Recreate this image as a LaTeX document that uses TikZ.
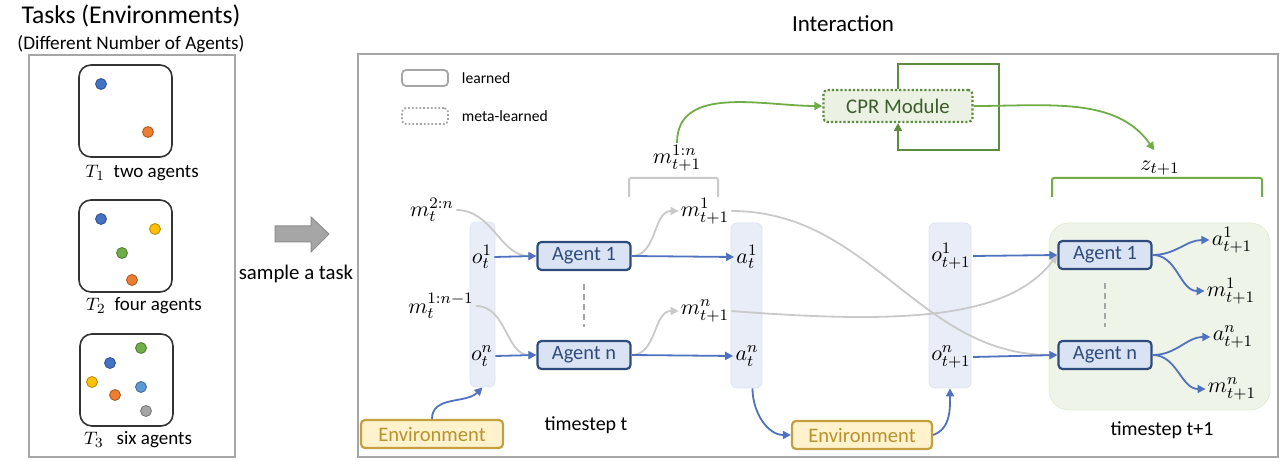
\documentclass[tikz,border=0pt]{standalone}
\usepackage{fontspec}
\setmainfont{Carlito}
\usetikzlibrary{arrows.meta,positioning}

\definecolor{flowblue}{HTML}{4F71BE}
\definecolor{agentline}{HTML}{2F4B7C}
\definecolor{agentfill}{HTML}{DAE3F3}
\definecolor{colfill}{HTML}{E9EDF7}
\definecolor{colline}{HTML}{DDE3F0}
\definecolor{metagreen}{HTML}{70AD47}
\definecolor{loopgreen}{HTML}{5E8C3F}
\definecolor{cprfill}{HTML}{EBF1E3}
\definecolor{cprtext}{HTML}{3B5E2B}
\definecolor{regionfill}{HTML}{EFF4E9}
\definecolor{regionline}{HTML}{E2EBD8}
\definecolor{envfill}{HTML}{FFF2CC}
\definecolor{envline}{HTML}{C5A03E}
\definecolor{envtext}{HTML}{B8922E}
\definecolor{msggray}{HTML}{C9C9C9}
\definecolor{framegray}{HTML}{A6A6A6}
\definecolor{dotblue}{HTML}{4472C4}
\definecolor{dotorange}{HTML}{ED7D31}
\definecolor{dotyellow}{HTML}{FFC000}
\definecolor{dotgreen}{HTML}{70AD47}
\definecolor{dotsky}{HTML}{5B9BD5}
\definecolor{dotgray}{HTML}{A5A5A5}

\tikzset{
  agentbox/.style={draw=agentline, fill=agentfill, line width=1.1pt, rounded corners=2pt,
    minimum width=46.5pt, minimum height=14pt, inner sep=0pt, text=agentline,
    font=\fontsize{10.2}{12}\selectfont},
  envbox/.style={draw=envline, fill=envfill, line width=1.1pt, rounded corners=2pt,
    minimum width=71pt, minimum height=14pt, inner sep=0pt, text=envtext,
    font=\fontsize{10.3}{12}\selectfont},
  obscol/.style={draw=colline, fill=colfill, rounded corners=3pt, inner sep=0pt,
    minimum height=82.5pt},
  varlab/.style={font=\fontsize{11}{13}\selectfont, inner sep=1pt},
  flowarrow/.style={flowblue, line width=0.9pt, -{Triangle[length=4pt,width=4pt]}},
  msgarrow/.style={msggray, line width=0.9pt, -{Triangle[length=4pt,width=4pt]}},
  metaarrow/.style={metagreen, line width=0.9pt, -{Triangle[length=4pt,width=4pt]}},
  taskbox/.style={draw=black!80, line width=0.8pt, rounded corners=6pt,
    minimum width=46.5pt, minimum height=46pt},
  agentdot/.style={circle, inner sep=0pt, minimum size=5.5pt, line width=0.4pt},
  captext/.style={font=\fontsize{9.5}{11}\selectfont},
}

\begin{document}
\begin{tikzpicture}[x=0.5pt,y=0.5pt]

    % Fix the page size
    \useasboundingbox (0,0) rectangle (1286,-464);

    % Titles of the two panels
    \node[font=\fontsize{12.8}{15}\selectfont] (tasktitle) at (131,-16) {Tasks (Environments)};
    \node[font=\fontsize{9.6}{11}\selectfont] (tasksub) at (131,-44) {(Different Number of Agents)};
    \node[font=\fontsize{11.5}{14}\selectfont] (inttitle) at (843,-24) {Interaction};

    % Draw the two frames
    \draw[framegray, line width=0.8pt] (29,-55) rectangle (235,-457);
    \draw[framegray, line width=0.8pt] (358,-54) rectangle (1278,-457);

    % The three tasks
    \node[taskbox] (t1) at (125.5,-111) {};
    \node[taskbox] (t2) at (125.5,-246) {};
    \node[taskbox] (t3) at (126.5,-380) {};
    \node[captext] (t1lab) at (142,-173) {$T_1$\ \ two agents};
    \node[captext] (t2lab) at (144,-306) {$T_2$\ \ four agents};
    \node[captext] (t3lab) at (138,-440) {$T_3$\ \ \ six agents};

    % Agents inside the tasks
    \node[agentdot, fill=dotblue, draw=dotblue!70!black] (d11) at (101,-84) {};
    \node[agentdot, fill=dotorange, draw=dotorange!70!black] (d12) at (148,-132) {};
    \node[agentdot, fill=dotblue, draw=dotblue!70!black] (d21) at (101,-219) {};
    \node[agentdot, fill=dotyellow, draw=dotyellow!70!black] (d22) at (155,-229) {};
    \node[agentdot, fill=dotgreen, draw=dotgreen!70!black] (d23) at (122,-253) {};
    \node[agentdot, fill=dotorange, draw=dotorange!70!black] (d24) at (132,-280) {};
    \node[agentdot, fill=dotgreen, draw=dotgreen!70!black] (d31) at (141,-348) {};
    \node[agentdot, fill=dotblue, draw=dotblue!70!black] (d32) at (110,-363) {};
    \node[agentdot, fill=dotyellow, draw=dotyellow!70!black] (d33) at (92,-382) {};
    \node[agentdot, fill=dotsky, draw=dotsky!70!black] (d34) at (141,-387) {};
    \node[agentdot, fill=dotorange, draw=dotorange!70!black] (d35) at (115,-395) {};
    \node[agentdot, fill=dotgray, draw=dotgray!70!black] (d36) at (146,-411) {};

    % Big gray arrow
    \draw[fill=framegray, draw=framegray!85!black, line width=0.5pt]
        (275,-226) -- (311,-226) -- (311,-217) -- (329,-234) -- (311,-252) -- (311,-242) -- (275,-242) -- cycle;
    \node[font=\fontsize{10.4}{12}\selectfont] (sample) at (296,-274) {sample a task};

    % Legend
    \node[draw=framegray, line width=0.9pt, rounded corners=2pt, minimum width=23pt,
        minimum height=8pt, inner sep=0pt] (lgsolid) at (425,-78) {};
    \node[right=3pt of lgsolid, font=\fontsize{7.8}{9}\selectfont] (lglearned) {learned};
    \node[draw=framegray, densely dotted, line width=0.9pt, rounded corners=2pt, minimum width=23pt,
        minimum height=8pt, inner sep=0pt] (lgdotted) at (425,-116) {};
    \node[right=3pt of lgdotted, font=\fontsize{7.8}{9}\selectfont] (lgmeta) {meta-learned};

    % Background columns and region
    \node[obscol, minimum width=12.5pt] (colO) at (482.5,-304.5) {};
    \node[obscol, minimum width=15.5pt] (colA) at (746.5,-305.5) {};
    \node[obscol, minimum width=21pt] (colB) at (950,-305.5) {};
    \node[draw=regionline, fill=regionfill, rounded corners=10pt, minimum width=110.5pt,
        minimum height=93.5pt] (region) at (1159.5,-316.5) {};

    % CPR module and its loop
    \node[draw=loopgreen, densely dotted, line width=1.1pt, fill=cprfill, rounded corners=2pt,
        minimum width=74.5pt, minimum height=16pt, text=cprtext,
        font=\fontsize{10.4}{12}\selectfont] (cpr) at (898,-106) {CPR Module};
    \coordinate (looptop) at (999,-64);
    \coordinate (loopbot) at (999,-150);
    \draw[loopgreen, line width=1.3pt, -{Triangle[length=4pt,width=4pt]}]
        (cpr.north) |- (looptop) -- (loopbot) -| (cpr.south);

    % Agents at timestep t
    \node[agentbox] (ag1) at (584,-256) {Agent 1};
    \node[agentbox] (agn) at (584,-355) {Agent n};

    % Agents at timestep t+1
    \node[agentbox] (agb1) at (1105,-255) {Agent 1};
    \node[agentbox] (agbn) at (1105,-355) {Agent n};

    % Environments
    \node[envbox] (env1) at (432,-434) {Environment};
    \node[envbox, minimum width=70pt] (env2) at (862,-435) {Environment};

    % Variables at timestep t
    \node[varlab] (mt2n) at (432,-210) {$m_t^{2:n}$};
    \node[varlab] (mt1n) at (441,-306) {$m_t^{1:n-1}$};
    \node[varlab] (ot1) at (482,-257) {$o_t^1$};
    \node[varlab] (otn) at (482,-356) {$o_t^n$};
    \node[varlab] (at1) at (747,-257) {$a_t^1$};
    \node[varlab] (atn) at (747,-356) {$a_t^n$};
    \node[varlab] (mn1) at (705,-211) {$m_{t+1}^1$};
    \node[varlab] (mnn) at (705,-311) {$m_{t+1}^n$};
    \node[varlab] (mall) at (677,-158) {$m_{t+1}^{1:n}$};

    % Variables at timestep t+1
    \node[varlab] (ob1) at (951,-256) {$o_{t+1}^1$};
    \node[varlab] (obn) at (951,-357) {$o_{t+1}^n$};
    \node[varlab] (ab1) at (1232,-240) {$a_{t+1}^1$};
    \node[varlab] (mb1) at (1231,-291) {$m_{t+1}^1$};
    \node[varlab] (abn) at (1233,-337) {$a_{t+1}^n$};
    \node[varlab] (mbn) at (1232,-389) {$m_{t+1}^n$};
    \node[varlab] (zlab) at (1160,-168) {$z_{t+1}$};

    % Captions of the timesteps
    \node[font=\fontsize{10}{12}\selectfont] (ts1) at (586,-425) {timestep t};
    \node[font=\fontsize{10}{12}\selectfont] (ts2) at (1162,-430) {timestep t+1};

    % Brackets over the messages
    \draw[msggray, line width=1pt, rounded corners=1pt] (629,-197) -- (629,-178) -- (718,-178) -- (718,-197);
    \draw[metagreen, line width=1pt, rounded corners=1pt] (1052,-197) -- (1052,-178) -- (1262,-178) -- (1262,-197);

    % Dashed lines between the agents
    \draw[framegray, dash pattern=on 3pt off 2pt, line width=0.8pt] ([yshift=-6.5pt]ag1.south) -- ([yshift=6.5pt]agn.north);
    \draw[framegray, dash pattern=on 3pt off 2pt, line width=0.8pt] ([yshift=-6.5pt]agb1.south) -- ([yshift=6.5pt]agbn.north);

    % Message arrows
    \draw[msgarrow] (mt2n.east) to[out=0,in=180] (ag1.west);
    \draw[msgarrow] (mt1n.east) to[out=0,in=180] (agn.west);
    \draw[msgarrow] (ag1.east) to[out=0,in=180] (mn1.west);
    \draw[msgarrow] (agn.east) to[out=0,in=180] (mnn.west);
    \draw[msgarrow] (mn1.east) to[out=0,in=180] (agbn.west);
    \draw[msgarrow] (mnn.east) .. controls +(180,-14) and +(-48,-62) .. (agb1.west);

    % Observation and action arrows
    \draw[flowarrow] (ot1.east) -- (ag1.west);
    \draw[flowarrow] (otn.east) -- (agn.west);
    \draw[flowarrow] (ag1.east) -- (at1.west);
    \draw[flowarrow] (agn.east) -- (atn.west);
    \draw[flowarrow] (ob1.east) -- (agb1.west);
    \draw[flowarrow] (obn.east) -- (agbn.west);
    \draw[flowarrow] (agb1.east) to[out=0,in=180] (ab1.west);
    \draw[flowarrow] (agb1.east) to[out=0,in=180] (mb1.west);
    \draw[flowarrow] (agbn.east) to[out=0,in=180] (abn.west);
    \draw[flowarrow] (agbn.east) to[out=0,in=180] (mbn.west);

    % Environment arrows
    \draw[flowarrow] (env1.north) to[out=90,in=225] (colO.south);
    \draw[flowarrow] ([xshift=3pt]colA.south) to[out=-90,in=180] (env2.west);
    \draw[flowarrow] (env2.east) to[out=20,in=-90] (colB.south);

    % Meta-learned arrows
    \draw[metaarrow] (mall.north) to[out=90,in=180] (cpr.west);
    \draw[metaarrow, shorten >=5pt] (cpr.east) to[out=0,in=125] (zlab.north);

\end{tikzpicture}
\end{document}
